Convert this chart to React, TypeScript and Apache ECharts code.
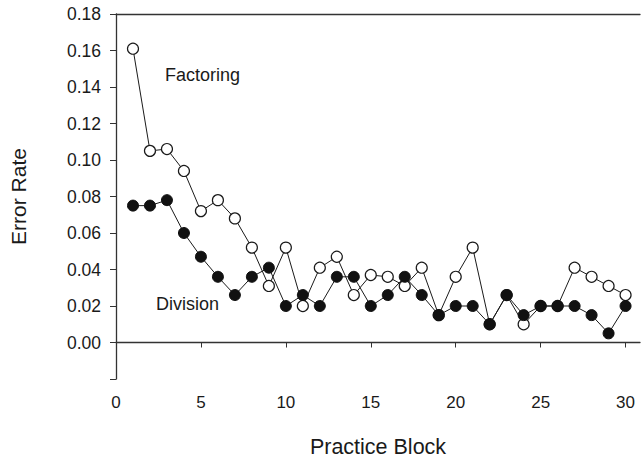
import React, { useEffect, useRef } from "react";
import * as echarts from "echarts";

const blocks = Array.from({ length: 30 }, (_, i) => i + 1);
const factoring = [
  0.161, 0.105, 0.106, 0.094, 0.072, 0.078, 0.068, 0.052, 0.031, 0.052,
  0.020, 0.041, 0.047, 0.026, 0.037, 0.036, 0.031, 0.041, 0.015, 0.036,
  0.052, 0.010, 0.026, 0.010, 0.020, 0.020, 0.041, 0.036, 0.031, 0.026,
];
const division = [
  0.075, 0.075, 0.078, 0.060, 0.047, 0.036, 0.026, 0.036, 0.041, 0.020,
  0.026, 0.020, 0.036, 0.036, 0.020, 0.026, 0.036, 0.026, 0.015, 0.020,
  0.020, 0.010, 0.026, 0.015, 0.020, 0.020, 0.020, 0.015, 0.005, 0.020,
];
const xTitle = "Practice Block";
const yTitle = "Error Rate";

const FONT = "'Liberation Sans', Arial, sans-serif";
const INK = "#1a1a1a";

export default function App() {
  const ref = useRef<HTMLDivElement>(null);
  useEffect(() => {
    if (!ref.current) return;
    const chart = echarts.init(ref.current, undefined, { renderer: "svg" });
    const xMin = 0;
    const xMax = 30.85;
    chart.setOption({
      animation: false,
      backgroundColor: "#ffffff",
      textStyle: { fontFamily: FONT, color: INK },
      grid: { left: 116, right: 1, top: 14, bottom: 76, containLabel: false },
      xAxis: [
        {
          type: "value",
          min: xMin,
          max: xMax,
          interval: 5,
          position: "bottom",
          name: xTitle,
          nameLocation: "middle",
          nameGap: 57,
          nameTextStyle: { fontSize: 21.5, color: INK, fontFamily: FONT },
          axisLine: { show: true, lineStyle: { color: "#333", width: 1.3 } },
          axisTick: { show: true, inside: false, length: 5, lineStyle: { color: "#333" } },
          axisLabel: { fontSize: 17, color: INK, margin: 15, fontFamily: FONT, showMaxLabel: false },
          splitLine: { show: false },
        },
        {
          type: "value",
          min: xMin,
          max: xMax,
          position: "top",
          axisLine: { show: true, onZero: false, lineStyle: { color: "#333", width: 1.3 } },
          axisTick: { show: false },
          axisLabel: { show: false },
          splitLine: { show: false },
        },
      ],
      yAxis: {
        type: "value",
        min: -0.02,
        max: 0.18,
        interval: 0.02,
        name: yTitle,
        nameLocation: "middle",
        nameGap: 87,
        nameTextStyle: { fontSize: 21, color: INK, fontFamily: FONT },
        axisLine: { show: true, onZero: false, lineStyle: { color: "#333", width: 1.3 } },
        axisTick: { show: true, inside: false, length: 6, lineStyle: { color: "#333" } },
        axisLabel: {
          fontSize: 17.5,
          color: INK,
          margin: 15,
          fontFamily: FONT,
          formatter: (v: number) => (v < -0.0001 ? "" : v.toFixed(2)),
        },
        splitLine: { show: false },
      },
      series: [
        {
          name: "Factoring",
          type: "line",
          data: blocks.map((b, i) => [b, factoring[i]]),
          symbol: "circle",
          symbolSize: 11,
          lineStyle: { color: INK, width: 1 },
          itemStyle: { color: "#ffffff", borderColor: INK, borderWidth: 1.2 },
          z: 2,
        },
        {
          name: "Division",
          type: "line",
          data: blocks.map((b, i) => [b, division[i]]),
          symbol: "circle",
          symbolSize: 11,
          lineStyle: { color: INK, width: 1 },
          itemStyle: { color: "#111111", borderColor: "#111111", borderWidth: 1 },
          z: 3,
        },
      ],
      graphic: [
        {
          type: "text",
          left: 165,
          top: 66,
          style: { text: "Factoring", fontSize: 18, fill: INK, fontFamily: FONT },
        },
        {
          type: "text",
          left: 156,
          top: 295,
          style: { text: "Division", fontSize: 18, fill: INK, fontFamily: FONT },
        },
      ],
    });
    return () => chart.dispose();
  }, []);
  return (
    <div
      ref={ref}
      style={{ position: "fixed", left: 0, top: 0, width: 641, height: 463, background: "#fff" }}
    />
  );
}
